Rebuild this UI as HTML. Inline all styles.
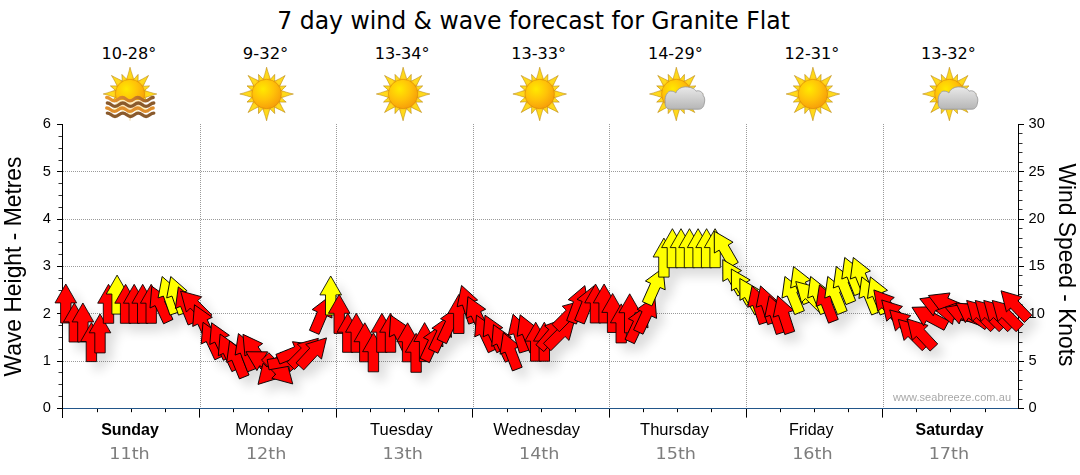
<!DOCTYPE html>
<html lang="en"><head><meta charset="utf-8"><title>7 day wind &amp; wave forecast for Granite Flat</title>
<style>html,body{margin:0;padding:0;background:#fff}body{width:1080px;height:475px;overflow:hidden}svg{display:block}.ar{font-family:"Liberation Sans",Arial,sans-serif}.vd{font-family:"DejaVu Sans",Verdana,sans-serif}.th{font-family:"DejaVu Sans Condensed","DejaVu Sans",Tahoma,sans-serif}</style></head><body>
<svg width="1080" height="475" viewBox="0 0 1080 475">
<defs>
<path id="a" d="M0,-18.9 L10.8,0 L5.2,0 L5.2,20.1 L-5.2,20.1 L-5.2,0 L-10.8,0 Z" stroke="#000" stroke-width="0.85" stroke-linejoin="miter"/>
<filter id="sh" x="-5%" y="-20%" width="110%" height="150%"><feGaussianBlur in="SourceAlpha" stdDeviation="5.5"/><feOffset dx="7" dy="8"/><feComponentTransfer><feFuncA type="linear" slope="0.14"/></feComponentTransfer><feMerge><feMergeNode/><feMergeNode in="SourceGraphic"/></feMerge></filter>
<radialGradient id="sg" cx="0.38" cy="0.33" r="0.75"><stop offset="0" stop-color="#ffe900"/><stop offset="0.5" stop-color="#ffc208"/><stop offset="1" stop-color="#f5980a"/></radialGradient>
<radialGradient id="rg" cx="0.5" cy="0.5" r="0.5"><stop offset="0.5" stop-color="#ffd91c"/><stop offset="1" stop-color="#fcb912"/></radialGradient>
<linearGradient id="cg" x1="0" y1="0" x2="0" y2="1"><stop offset="0" stop-color="#e9e9e9"/><stop offset="1" stop-color="#b6b6b6"/></linearGradient>
<linearGradient id="wg" x1="0" y1="0" x2="1" y2="0"><stop offset="0" stop-color="#e8962e"/><stop offset="0.6" stop-color="#c87a2a"/><stop offset="1" stop-color="#8a5a2c"/></linearGradient>
<g id="sun"><g fill="url(#rg)" stroke="#b98a12" stroke-width="0.55" stroke-linejoin="round"><path d="M-4.3,-12.5 C-2.37,-17.50 -0.9,-22.51 0,-26.8 C1.3,-21.37 3.44,-16.79 4.3,-12.5 Z" transform="rotate(0.0)"/><path d="M-3.3,-12.5 C-1.81,-15.54 -0.9,-18.59 0,-21.2 C1.3,-17.89 2.64,-15.11 3.3,-12.5 Z" transform="rotate(22.5)"/><path d="M-4.3,-12.5 C-2.37,-17.29 -0.9,-22.09 0,-26.2 C1.3,-20.99 3.44,-16.61 4.3,-12.5 Z" transform="rotate(45.0)"/><path d="M-3.3,-12.5 C-1.81,-15.54 -0.9,-18.59 0,-21.2 C1.3,-17.89 2.64,-15.11 3.3,-12.5 Z" transform="rotate(67.5)"/><path d="M-4.3,-12.5 C-2.37,-17.50 -0.9,-22.51 0,-26.8 C1.3,-21.37 3.44,-16.79 4.3,-12.5 Z" transform="rotate(90.0)"/><path d="M-3.3,-12.5 C-1.81,-15.54 -0.9,-18.59 0,-21.2 C1.3,-17.89 2.64,-15.11 3.3,-12.5 Z" transform="rotate(112.5)"/><path d="M-4.3,-12.5 C-2.37,-17.29 -0.9,-22.09 0,-26.2 C1.3,-20.99 3.44,-16.61 4.3,-12.5 Z" transform="rotate(135.0)"/><path d="M-3.3,-12.5 C-1.81,-15.54 -0.9,-18.59 0,-21.2 C1.3,-17.89 2.64,-15.11 3.3,-12.5 Z" transform="rotate(157.5)"/><path d="M-4.3,-12.5 C-2.37,-17.50 -0.9,-22.51 0,-26.8 C1.3,-21.37 3.44,-16.79 4.3,-12.5 Z" transform="rotate(180.0)"/><path d="M-3.3,-12.5 C-1.81,-15.54 -0.9,-18.59 0,-21.2 C1.3,-17.89 2.64,-15.11 3.3,-12.5 Z" transform="rotate(202.5)"/><path d="M-4.3,-12.5 C-2.37,-17.29 -0.9,-22.09 0,-26.2 C1.3,-20.99 3.44,-16.61 4.3,-12.5 Z" transform="rotate(225.0)"/><path d="M-3.3,-12.5 C-1.81,-15.54 -0.9,-18.59 0,-21.2 C1.3,-17.89 2.64,-15.11 3.3,-12.5 Z" transform="rotate(247.5)"/><path d="M-4.3,-12.5 C-2.37,-17.50 -0.9,-22.51 0,-26.8 C1.3,-21.37 3.44,-16.79 4.3,-12.5 Z" transform="rotate(270.0)"/><path d="M-3.3,-12.5 C-1.81,-15.54 -0.9,-18.59 0,-21.2 C1.3,-17.89 2.64,-15.11 3.3,-12.5 Z" transform="rotate(292.5)"/><path d="M-4.3,-12.5 C-2.37,-17.29 -0.9,-22.09 0,-26.2 C1.3,-20.99 3.44,-16.61 4.3,-12.5 Z" transform="rotate(315.0)"/><path d="M-3.3,-12.5 C-1.81,-15.54 -0.9,-18.59 0,-21.2 C1.3,-17.89 2.64,-15.11 3.3,-12.5 Z" transform="rotate(337.5)"/></g><circle r="14.7" fill="url(#sg)" stroke="#d88a08" stroke-width="0.6"/></g>
<g id="cloud"><path d="M-6,15.2 C-9.5,15.2 -11.6,12.5 -11.1,8 C-12,2 -8.5,-3 -5.5,-2.9 C-3.5,-2.9 -1.5,-2.2 -0.5,-1 C1,-5 5,-7.1 9.2,-7.1 C14,-7.1 18.5,-5.5 19.8,-2.8 C22.5,-4.2 27,-2 27,1.8 C28.5,3 28.8,6.5 28,9 C27.5,13 25.5,15.2 22.5,15.2 Z" fill="url(#cg)" stroke="#9c9c9c" stroke-width="0.9"/></g>
</defs>
<rect width="1080" height="475" fill="#fff"/>
<text class="th" x="277.3" y="28.6" font-size="24.5" textLength="512.7" lengthAdjust="spacingAndGlyphs" fill="#000">7 day wind &amp; wave forecast for Granite Flat</text>
<text class="vd" x="101.6" y="59" font-size="16" textLength="54.8" lengthAdjust="spacingAndGlyphs" fill="#000">10-28°</text>
<use href="#sun" x="130.0" y="94"/>
<rect x="102.0" y="100" width="56" height="22" fill="#fff" opacity="0.72"/>
<path d="M106.7,97.5 C110.2,97.5 111.0,100.9 114.5,100.9 C117.9,100.9 118.7,97.5 122.2,97.5 C125.7,97.5 126.5,100.9 129.9,100.9 C133.4,100.9 134.2,97.5 137.7,97.5 C141.2,97.5 142.0,100.9 145.4,100.9 C148.9,100.9 149.7,97.5 153.2,97.5" fill="none" stroke="url(#wg)" stroke-width="3.3" stroke-linecap="round" stroke-linejoin="round"/>
<path d="M107.3,103.0 C110.8,103.0 111.6,106.4 115.0,106.4 C118.5,106.4 119.3,103.0 122.8,103.0 C126.3,103.0 127.1,106.4 130.6,106.4 C134.0,106.4 134.8,103.0 138.3,103.0 C141.8,103.0 142.6,106.4 146.1,106.4 C149.5,106.4 150.3,103.0 153.8,103.0" fill="none" stroke="#8a5a2c" stroke-width="3.3" stroke-linecap="round" stroke-linejoin="round"/>
<path d="M106.7,108.0 C110.2,108.0 111.0,111.4 114.5,111.4 C117.9,111.4 118.7,108.0 122.2,108.0 C125.7,108.0 126.5,111.4 129.9,111.4 C133.4,111.4 134.2,108.0 137.7,108.0 C141.2,108.0 142.0,111.4 145.4,111.4 C148.9,111.4 149.7,108.0 153.2,108.0" fill="none" stroke="#e08f2c" stroke-width="3.3" stroke-linecap="round" stroke-linejoin="round"/>
<path d="M107.3,113.1 C110.8,113.1 111.6,116.5 115.0,116.5 C118.5,116.5 119.3,113.1 122.8,113.1 C126.3,113.1 127.1,116.5 130.6,116.5 C134.0,116.5 134.8,113.1 138.3,113.1 C141.8,113.1 142.6,116.5 146.1,116.5 C149.5,116.5 150.3,113.1 153.8,113.1" fill="none" stroke="#8a5a2c" stroke-width="3.3" stroke-linecap="round" stroke-linejoin="round"/>
<text class="vd" x="242.8" y="59" font-size="16" textLength="45.5" lengthAdjust="spacingAndGlyphs" fill="#000">9-32°</text>
<use href="#sun" x="266.6" y="94"/>
<text class="vd" x="374.7" y="59" font-size="16" textLength="54.8" lengthAdjust="spacingAndGlyphs" fill="#000">13-34°</text>
<use href="#sun" x="403.1" y="94"/>
<text class="vd" x="511.3" y="59" font-size="16" textLength="54.8" lengthAdjust="spacingAndGlyphs" fill="#000">13-33°</text>
<use href="#sun" x="539.7" y="94"/>
<text class="vd" x="647.9" y="59" font-size="16" textLength="54.8" lengthAdjust="spacingAndGlyphs" fill="#000">14-29°</text>
<use href="#sun" x="676.3" y="94"/>
<use href="#cloud" x="676.3" y="94"/>
<text class="vd" x="784.5" y="59" font-size="16" textLength="54.8" lengthAdjust="spacingAndGlyphs" fill="#000">12-31°</text>
<use href="#sun" x="812.9" y="94"/>
<text class="vd" x="921.0" y="59" font-size="16" textLength="54.8" lengthAdjust="spacingAndGlyphs" fill="#000">13-32°</text>
<use href="#sun" x="949.4" y="94"/>
<use href="#cloud" x="949.4" y="94"/>
<g stroke="#9a9a9a" stroke-width="1" stroke-dasharray="1 1" shape-rendering="crispEdges"><line x1="63" y1="361.5" x2="1017" y2="361.5"/><line x1="63" y1="313.5" x2="1017" y2="313.5"/><line x1="63" y1="266.5" x2="1017" y2="266.5"/><line x1="63" y1="219.5" x2="1017" y2="219.5"/><line x1="63" y1="171.5" x2="1017" y2="171.5"/><line x1="200.5" y1="124" x2="200.5" y2="408"/><line x1="336.5" y1="124" x2="336.5" y2="408"/><line x1="473.5" y1="124" x2="473.5" y2="408"/><line x1="609.5" y1="124" x2="609.5" y2="408"/><line x1="746.5" y1="124" x2="746.5" y2="408"/><line x1="883.5" y1="124" x2="883.5" y2="408"/></g>
<line x1="63" y1="408.5" x2="1018" y2="408.5" stroke="#22568a" stroke-width="1.1"/>
<g stroke="#000" stroke-width="1"><line x1="62.5" y1="124" x2="62.5" y2="418"/><line x1="1018.5" y1="124" x2="1018.5" y2="409"/><line x1="57" y1="408.5" x2="62" y2="408.5"/><line x1="58.5" y1="396.5" x2="62" y2="396.5" stroke="#333"/><line x1="58.5" y1="384.5" x2="62" y2="384.5" stroke="#333"/><line x1="58.5" y1="372.5" x2="62" y2="372.5" stroke="#333"/><line x1="57" y1="361.5" x2="62" y2="361.5"/><line x1="58.5" y1="349.5" x2="62" y2="349.5" stroke="#333"/><line x1="58.5" y1="337.5" x2="62" y2="337.5" stroke="#333"/><line x1="58.5" y1="325.5" x2="62" y2="325.5" stroke="#333"/><line x1="57" y1="313.5" x2="62" y2="313.5"/><line x1="58.5" y1="302.5" x2="62" y2="302.5" stroke="#333"/><line x1="58.5" y1="290.5" x2="62" y2="290.5" stroke="#333"/><line x1="58.5" y1="278.5" x2="62" y2="278.5" stroke="#333"/><line x1="57" y1="266.5" x2="62" y2="266.5"/><line x1="58.5" y1="254.5" x2="62" y2="254.5" stroke="#333"/><line x1="58.5" y1="242.5" x2="62" y2="242.5" stroke="#333"/><line x1="58.5" y1="230.5" x2="62" y2="230.5" stroke="#333"/><line x1="57" y1="219.5" x2="62" y2="219.5"/><line x1="58.5" y1="207.5" x2="62" y2="207.5" stroke="#333"/><line x1="58.5" y1="195.5" x2="62" y2="195.5" stroke="#333"/><line x1="58.5" y1="183.5" x2="62" y2="183.5" stroke="#333"/><line x1="57" y1="171.5" x2="62" y2="171.5"/><line x1="58.5" y1="160.5" x2="62" y2="160.5" stroke="#333"/><line x1="58.5" y1="148.5" x2="62" y2="148.5" stroke="#333"/><line x1="58.5" y1="136.5" x2="62" y2="136.5" stroke="#333"/><line x1="57" y1="124.5" x2="62" y2="124.5"/><line x1="1019" y1="408.5" x2="1024" y2="408.5"/><line x1="1019" y1="399.5" x2="1022.5" y2="399.5" stroke="#333"/><line x1="1019" y1="389.5" x2="1022.5" y2="389.5" stroke="#333"/><line x1="1019" y1="380.5" x2="1022.5" y2="380.5" stroke="#333"/><line x1="1019" y1="370.5" x2="1022.5" y2="370.5" stroke="#333"/><line x1="1019" y1="361.5" x2="1024" y2="361.5"/><line x1="1019" y1="351.5" x2="1022.5" y2="351.5" stroke="#333"/><line x1="1019" y1="342.5" x2="1022.5" y2="342.5" stroke="#333"/><line x1="1019" y1="332.5" x2="1022.5" y2="332.5" stroke="#333"/><line x1="1019" y1="323.5" x2="1022.5" y2="323.5" stroke="#333"/><line x1="1019" y1="313.5" x2="1024" y2="313.5"/><line x1="1019" y1="304.5" x2="1022.5" y2="304.5" stroke="#333"/><line x1="1019" y1="294.5" x2="1022.5" y2="294.5" stroke="#333"/><line x1="1019" y1="285.5" x2="1022.5" y2="285.5" stroke="#333"/><line x1="1019" y1="275.5" x2="1022.5" y2="275.5" stroke="#333"/><line x1="1019" y1="266.5" x2="1024" y2="266.5"/><line x1="1019" y1="257.5" x2="1022.5" y2="257.5" stroke="#333"/><line x1="1019" y1="247.5" x2="1022.5" y2="247.5" stroke="#333"/><line x1="1019" y1="238.5" x2="1022.5" y2="238.5" stroke="#333"/><line x1="1019" y1="228.5" x2="1022.5" y2="228.5" stroke="#333"/><line x1="1019" y1="219.5" x2="1024" y2="219.5"/><line x1="1019" y1="209.5" x2="1022.5" y2="209.5" stroke="#333"/><line x1="1019" y1="200.5" x2="1022.5" y2="200.5" stroke="#333"/><line x1="1019" y1="190.5" x2="1022.5" y2="190.5" stroke="#333"/><line x1="1019" y1="181.5" x2="1022.5" y2="181.5" stroke="#333"/><line x1="1019" y1="171.5" x2="1024" y2="171.5"/><line x1="1019" y1="162.5" x2="1022.5" y2="162.5" stroke="#333"/><line x1="1019" y1="152.5" x2="1022.5" y2="152.5" stroke="#333"/><line x1="1019" y1="143.5" x2="1022.5" y2="143.5" stroke="#333"/><line x1="1019" y1="133.5" x2="1022.5" y2="133.5" stroke="#333"/><line x1="1019" y1="124.5" x2="1024" y2="124.5"/><line x1="97.5" y1="409" x2="97.5" y2="412.2"/><line x1="131.5" y1="409" x2="131.5" y2="412.2"/><line x1="165.5" y1="409" x2="165.5" y2="412.2"/><line x1="199.5" y1="409" x2="199.5" y2="417.6"/><line x1="233.5" y1="409" x2="233.5" y2="412.2"/><line x1="268.5" y1="409" x2="268.5" y2="412.2"/><line x1="302.5" y1="409" x2="302.5" y2="412.2"/><line x1="336.5" y1="409" x2="336.5" y2="417.6"/><line x1="370.5" y1="409" x2="370.5" y2="412.2"/><line x1="404.5" y1="409" x2="404.5" y2="412.2"/><line x1="438.5" y1="409" x2="438.5" y2="412.2"/><line x1="472.5" y1="409" x2="472.5" y2="417.6"/><line x1="507.5" y1="409" x2="507.5" y2="412.2"/><line x1="541.5" y1="409" x2="541.5" y2="412.2"/><line x1="575.5" y1="409" x2="575.5" y2="412.2"/><line x1="609.5" y1="409" x2="609.5" y2="417.6"/><line x1="643.5" y1="409" x2="643.5" y2="412.2"/><line x1="677.5" y1="409" x2="677.5" y2="412.2"/><line x1="711.5" y1="409" x2="711.5" y2="412.2"/><line x1="746.5" y1="409" x2="746.5" y2="417.6"/><line x1="780.5" y1="409" x2="780.5" y2="412.2"/><line x1="814.5" y1="409" x2="814.5" y2="412.2"/><line x1="848.5" y1="409" x2="848.5" y2="412.2"/><line x1="882.5" y1="409" x2="882.5" y2="417.6"/><line x1="916.5" y1="409" x2="916.5" y2="412.2"/><line x1="950.5" y1="409" x2="950.5" y2="412.2"/><line x1="985.5" y1="409" x2="985.5" y2="412.2"/></g>
<g filter="url(#sh)">
<use href="#a" transform="translate(65.8,302.9) rotate(0)" fill="#ff0000"/>
<use href="#a" transform="translate(74.3,321.9) rotate(0)" fill="#ff0000"/>
<use href="#a" transform="translate(82.9,321.9) rotate(0)" fill="#ff0000"/>
<use href="#a" transform="translate(91.4,341.5) rotate(0)" fill="#ff0000"/>
<use href="#a" transform="translate(100.0,332.8) rotate(0)" fill="#ff0000"/>
<use href="#a" transform="translate(108.5,303.2) rotate(0)" fill="#ff0000"/>
<use href="#a" transform="translate(117.1,294.0) rotate(0)" fill="#ffff00"/>
<use href="#a" transform="translate(125.6,303.2) rotate(0)" fill="#ff0000"/>
<use href="#a" transform="translate(134.2,303.2) rotate(0)" fill="#ff0000"/>
<use href="#a" transform="translate(142.7,303.2) rotate(0)" fill="#ff0000"/>
<use href="#a" transform="translate(151.2,303.2) rotate(0)" fill="#ff0000"/>
<use href="#a" transform="translate(159.8,303.4) rotate(-25)" fill="#ff0000"/>
<use href="#a" transform="translate(168.3,294.4) rotate(-19)" fill="#ffff00"/>
<use href="#a" transform="translate(176.9,294.4) rotate(-19)" fill="#ffff00"/>
<use href="#a" transform="translate(185.4,304.4) rotate(-22)" fill="#ff0000"/>
<use href="#a" transform="translate(194.0,304.4) rotate(-45)" fill="#ff0000"/>
<use href="#a" transform="translate(202.5,321.9) rotate(-25)" fill="#ff0000"/>
<use href="#a" transform="translate(211.0,339.4) rotate(-25)" fill="#ff0000"/>
<use href="#a" transform="translate(219.6,339.9) rotate(-25)" fill="#ff0000"/>
<use href="#a" transform="translate(228.1,351.2) rotate(-25)" fill="#ff0000"/>
<use href="#a" transform="translate(236.7,358.3) rotate(-22)" fill="#ff0000"/>
<use href="#a" transform="translate(245.2,351.2) rotate(-21)" fill="#ff0000"/>
<use href="#a" transform="translate(253.8,349.8) rotate(-35)" fill="#ff0000"/>
<use href="#a" transform="translate(262.3,361.2) rotate(-60)" fill="#ff0000"/>
<use href="#a" transform="translate(270.9,370.6) rotate(-137)" fill="#ff0000"/>
<use href="#a" transform="translate(279.4,370.6) rotate(135)" fill="#ff0000"/>
<use href="#a" transform="translate(287.9,361.2) rotate(80)" fill="#ff0000"/>
<use href="#a" transform="translate(296.5,351.7) rotate(68)" fill="#ff0000"/>
<use href="#a" transform="translate(305.0,351.7) rotate(45)" fill="#ff0000"/>
<use href="#a" transform="translate(313.6,351.7) rotate(43)" fill="#ff0000"/>
<use href="#a" transform="translate(322.1,313.8) rotate(23)" fill="#ff0000"/>
<use href="#a" transform="translate(330.7,294.9) rotate(0)" fill="#ffff00"/>
<use href="#a" transform="translate(339.2,313.3) rotate(0)" fill="#ff0000"/>
<use href="#a" transform="translate(347.8,332.2) rotate(0)" fill="#ff0000"/>
<use href="#a" transform="translate(356.3,332.2) rotate(0)" fill="#ff0000"/>
<use href="#a" transform="translate(364.8,341.7) rotate(0)" fill="#ff0000"/>
<use href="#a" transform="translate(373.4,351.7) rotate(0)" fill="#ff0000"/>
<use href="#a" transform="translate(381.9,332.2) rotate(0)" fill="#ff0000"/>
<use href="#a" transform="translate(390.5,332.2) rotate(0)" fill="#ff0000"/>
<use href="#a" transform="translate(399.0,332.2) rotate(-26)" fill="#ff0000"/>
<use href="#a" transform="translate(407.6,341.7) rotate(0)" fill="#ff0000"/>
<use href="#a" transform="translate(416.1,352.2) rotate(0)" fill="#ff0000"/>
<use href="#a" transform="translate(424.6,341.5) rotate(0)" fill="#ff0000"/>
<use href="#a" transform="translate(433.2,342.2) rotate(25)" fill="#ff0000"/>
<use href="#a" transform="translate(441.7,332.8) rotate(25)" fill="#ff0000"/>
<use href="#a" transform="translate(450.3,323.3) rotate(25)" fill="#ff0000"/>
<use href="#a" transform="translate(458.8,313.4) rotate(0)" fill="#ff0000"/>
<use href="#a" transform="translate(467.4,303.4) rotate(-18)" fill="#ff0000"/>
<use href="#a" transform="translate(475.9,313.8) rotate(-25)" fill="#ff0000"/>
<use href="#a" transform="translate(484.5,332.3) rotate(-25)" fill="#ff0000"/>
<use href="#a" transform="translate(493.0,332.3) rotate(-25)" fill="#ff0000"/>
<use href="#a" transform="translate(501.5,341.8) rotate(-25)" fill="#ff0000"/>
<use href="#a" transform="translate(510.1,350.3) rotate(-21)" fill="#ff0000"/>
<use href="#a" transform="translate(518.6,332.3) rotate(-17)" fill="#ff0000"/>
<use href="#a" transform="translate(527.2,332.3) rotate(-22)" fill="#ff0000"/>
<use href="#a" transform="translate(535.7,341.1) rotate(0)" fill="#ff0000"/>
<use href="#a" transform="translate(544.3,341.1) rotate(0)" fill="#ff0000"/>
<use href="#a" transform="translate(552.8,332.8) rotate(40)" fill="#ff0000"/>
<use href="#a" transform="translate(561.4,332.8) rotate(45)" fill="#ff0000"/>
<use href="#a" transform="translate(569.9,313.8) rotate(45)" fill="#ff0000"/>
<use href="#a" transform="translate(578.4,303.4) rotate(20)" fill="#ff0000"/>
<use href="#a" transform="translate(587.0,303.4) rotate(22)" fill="#ff0000"/>
<use href="#a" transform="translate(595.5,302.9) rotate(0)" fill="#ff0000"/>
<use href="#a" transform="translate(604.1,302.9) rotate(0)" fill="#ff0000"/>
<use href="#a" transform="translate(612.6,312.4) rotate(0)" fill="#ff0000"/>
<use href="#a" transform="translate(621.2,322.8) rotate(0)" fill="#ff0000"/>
<use href="#a" transform="translate(629.7,312.7) rotate(0)" fill="#ff0000"/>
<use href="#a" transform="translate(638.2,323.3) rotate(25)" fill="#ff0000"/>
<use href="#a" transform="translate(646.8,313.8) rotate(25)" fill="#ff0000"/>
<use href="#a" transform="translate(655.3,285.4) rotate(24)" fill="#ffff00"/>
<use href="#a" transform="translate(663.9,257.0) rotate(0)" fill="#ffff00"/>
<use href="#a" transform="translate(672.4,247.6) rotate(0)" fill="#ffff00"/>
<use href="#a" transform="translate(681.0,247.6) rotate(0)" fill="#ffff00"/>
<use href="#a" transform="translate(689.5,247.6) rotate(0)" fill="#ffff00"/>
<use href="#a" transform="translate(698.1,247.6) rotate(0)" fill="#ffff00"/>
<use href="#a" transform="translate(706.6,247.6) rotate(0)" fill="#ffff00"/>
<use href="#a" transform="translate(715.1,247.6) rotate(0)" fill="#ffff00"/>
<use href="#a" transform="translate(723.7,247.6) rotate(-30)" fill="#ffff00"/>
<use href="#a" transform="translate(732.2,276.0) rotate(-30)" fill="#ffff00"/>
<use href="#a" transform="translate(740.8,285.4) rotate(-30)" fill="#ffff00"/>
<use href="#a" transform="translate(749.3,294.9) rotate(-30)" fill="#ffff00"/>
<use href="#a" transform="translate(757.9,303.9) rotate(-18)" fill="#ff0000"/>
<use href="#a" transform="translate(766.4,303.9) rotate(-18)" fill="#ff0000"/>
<use href="#a" transform="translate(775.0,313.8) rotate(-18)" fill="#ff0000"/>
<use href="#a" transform="translate(783.5,313.8) rotate(-18)" fill="#ff0000"/>
<use href="#a" transform="translate(792.0,294.0) rotate(-22)" fill="#ffff00"/>
<use href="#a" transform="translate(800.6,284.0) rotate(-22)" fill="#ffff00"/>
<use href="#a" transform="translate(809.1,294.9) rotate(-45)" fill="#ffff00"/>
<use href="#a" transform="translate(817.7,294.0) rotate(-22)" fill="#ffff00"/>
<use href="#a" transform="translate(826.2,302.5) rotate(-21)" fill="#ff0000"/>
<use href="#a" transform="translate(834.8,294.0) rotate(-22)" fill="#ffff00"/>
<use href="#a" transform="translate(843.3,284.0) rotate(-22)" fill="#ffff00"/>
<use href="#a" transform="translate(851.8,275.0) rotate(-22)" fill="#ffff00"/>
<use href="#a" transform="translate(860.4,275.0) rotate(-22)" fill="#ffff00"/>
<use href="#a" transform="translate(868.9,294.4) rotate(-22)" fill="#ffff00"/>
<use href="#a" transform="translate(877.5,294.4) rotate(-22)" fill="#ffff00"/>
<use href="#a" transform="translate(886.0,304.4) rotate(-40)" fill="#ff0000"/>
<use href="#a" transform="translate(894.6,313.8) rotate(-43)" fill="#ff0000"/>
<use href="#a" transform="translate(903.1,323.3) rotate(-45)" fill="#ff0000"/>
<use href="#a" transform="translate(911.7,332.8) rotate(-45)" fill="#ff0000"/>
<use href="#a" transform="translate(920.2,332.8) rotate(-43)" fill="#ff0000"/>
<use href="#a" transform="translate(928.7,316.2) rotate(-62)" fill="#ff0000"/>
<use href="#a" transform="translate(937.3,305.8) rotate(-68)" fill="#ff0000"/>
<use href="#a" transform="translate(945.8,302.9) rotate(-67)" fill="#ff0000"/>
<use href="#a" transform="translate(954.4,313.8) rotate(-80)" fill="#ff0000"/>
<use href="#a" transform="translate(962.9,313.8) rotate(-70)" fill="#ff0000"/>
<use href="#a" transform="translate(971.5,313.8) rotate(-55)" fill="#ff0000"/>
<use href="#a" transform="translate(980.0,313.8) rotate(-45)" fill="#ff0000"/>
<use href="#a" transform="translate(988.6,313.8) rotate(-45)" fill="#ff0000"/>
<use href="#a" transform="translate(997.1,313.8) rotate(-45)" fill="#ff0000"/>
<use href="#a" transform="translate(1005.6,313.8) rotate(-45)" fill="#ff0000"/>
<use href="#a" transform="translate(1014.2,304.4) rotate(-44)" fill="#ff0000"/>
</g>
<text class="ar" x="51" y="411.8" font-size="14.67" text-anchor="end" fill="#000">0</text>
<text class="ar" x="51" y="365.1" font-size="14.67" text-anchor="end" fill="#000">1</text>
<text class="ar" x="51" y="317.7" font-size="14.67" text-anchor="end" fill="#000">2</text>
<text class="ar" x="51" y="270.4" font-size="14.67" text-anchor="end" fill="#000">3</text>
<text class="ar" x="51" y="223.1" font-size="14.67" text-anchor="end" fill="#000">4</text>
<text class="ar" x="51" y="175.7" font-size="14.67" text-anchor="end" fill="#000">5</text>
<text class="ar" x="51" y="127.8" font-size="14.67" text-anchor="end" fill="#000">6</text>
<text class="ar" x="1028.5" y="411.8" font-size="14.67" fill="#000">0</text>
<text class="ar" x="1028.5" y="365.1" font-size="14.67" fill="#000">5</text>
<text class="ar" x="1028.5" y="317.7" font-size="14.67" fill="#000">10</text>
<text class="ar" x="1028.5" y="270.4" font-size="14.67" fill="#000">15</text>
<text class="ar" x="1028.5" y="223.1" font-size="14.67" fill="#000">20</text>
<text class="ar" x="1028.5" y="175.7" font-size="14.67" fill="#000">25</text>
<text class="ar" x="1028.5" y="127.8" font-size="14.67" fill="#000">30</text>
<text class="ar" font-size="24" fill="#000" text-anchor="middle" textLength="220" lengthAdjust="spacingAndGlyphs" transform="translate(20.6,266.5) rotate(-90)">Wave Height - Metres</text>
<text class="ar" font-size="24" fill="#000" text-anchor="middle" textLength="203" lengthAdjust="spacingAndGlyphs" transform="translate(1059.2,265) rotate(90)">Wind Speed - Knots</text>
<text class="ar" x="893" y="400.8" font-size="11" textLength="118" lengthAdjust="spacing" fill="#a8a8a8">www.seabreeze.com.au</text>
<text class="ar" x="101.2" y="435" font-size="16" textLength="57.7" lengthAdjust="spacingAndGlyphs" font-weight="bold" fill="#000">Sunday</text>
<text class="vd" x="109.3" y="458.5" font-size="16" textLength="40.4" lengthAdjust="spacingAndGlyphs" fill="#7d7d7d">11th</text>
<text class="ar" x="235.2" y="435" font-size="16" textLength="57.9" lengthAdjust="spacingAndGlyphs" fill="#000">Monday</text>
<text class="vd" x="245.9" y="458.5" font-size="16" textLength="40.4" lengthAdjust="spacingAndGlyphs" fill="#7d7d7d">12th</text>
<text class="ar" x="370.0" y="435" font-size="16" textLength="62.7" lengthAdjust="spacingAndGlyphs" fill="#000">Tuesday</text>
<text class="vd" x="382.4" y="458.5" font-size="16" textLength="40.4" lengthAdjust="spacingAndGlyphs" fill="#7d7d7d">13th</text>
<text class="ar" x="493.3" y="435" font-size="16" textLength="86.7" lengthAdjust="spacingAndGlyphs" fill="#000">Wednesday</text>
<text class="vd" x="519.0" y="458.5" font-size="16" textLength="40.4" lengthAdjust="spacingAndGlyphs" fill="#7d7d7d">14th</text>
<text class="ar" x="640.1" y="435" font-size="16" textLength="68.8" lengthAdjust="spacingAndGlyphs" fill="#000">Thursday</text>
<text class="vd" x="655.6" y="458.5" font-size="16" textLength="40.4" lengthAdjust="spacingAndGlyphs" fill="#7d7d7d">15th</text>
<text class="ar" x="788.9" y="435" font-size="16" textLength="44.7" lengthAdjust="spacingAndGlyphs" fill="#000">Friday</text>
<text class="vd" x="792.2" y="458.5" font-size="16" textLength="40.4" lengthAdjust="spacingAndGlyphs" fill="#7d7d7d">16th</text>
<text class="ar" x="915.6" y="435" font-size="16" textLength="67.9" lengthAdjust="spacingAndGlyphs" font-weight="bold" fill="#000">Saturday</text>
<text class="vd" x="928.7" y="458.5" font-size="16" textLength="40.4" lengthAdjust="spacingAndGlyphs" fill="#7d7d7d">17th</text>
</svg></body></html>
